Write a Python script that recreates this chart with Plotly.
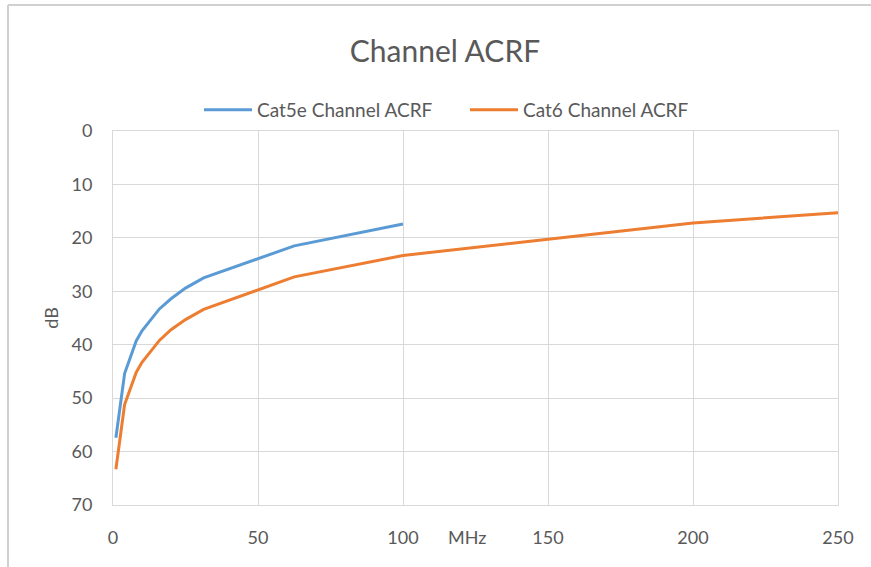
import plotly.graph_objects as go

freq_cat5e = [1, 4, 8, 10, 16, 20, 25, 31.25, 62.5, 100]
acrf_cat5e = [57.4, 45.4, 39.3, 37.4, 33.3, 31.4, 29.4, 27.5, 21.5, 17.4]
freq_cat6 = [1, 4, 8, 10, 16, 20, 25, 31.25, 62.5, 100, 200, 250]
acrf_cat6 = [63.3, 51.2, 45.2, 43.3, 39.2, 37.2, 35.3, 33.4, 27.3, 23.3, 17.2, 15.3]

FONT = "Lato"
GRAY = "#595959"

def px_x(p):
    return (p - 113) / 725.0

def px_y(p):
    return (505 - p) / 374.0

fig = go.Figure()
fig.add_trace(go.Scatter(x=freq_cat5e, y=acrf_cat5e, mode="lines",
                         name="Cat5e Channel ACRF", legend="legend",
                         line=dict(color="#5B9BD5", width=3)))
fig.add_trace(go.Scatter(x=freq_cat6, y=acrf_cat6, mode="lines",
                         name="Cat6 Channel ACRF", legend="legend2",
                         line=dict(color="#ED7D31", width=3)))

leg_common = dict(orientation="h", yanchor="middle", y=px_y(110), xanchor="left",
                  font=dict(size=19, color=GRAY, family=FONT),
                  itemwidth=48, bgcolor="rgba(0,0,0,0)")

fig.update_layout(
    width=871, height=567,
    margin=dict(l=113, r=33, t=131, b=62),
    paper_bgcolor="white", plot_bgcolor="white",
    font=dict(family=FONT, color=GRAY, size=18),
    title=dict(text="Channel ACRF", x=px_x(445), xanchor="center", xref="paper",
               y=0.91, yanchor="middle",
               font=dict(size=30, color=GRAY, family=FONT)),
    showlegend=True,
    legend=dict(x=px_x(204 - 5), **leg_common),
    legend2=dict(x=px_x(470 - 5), **leg_common),
    xaxis=dict(range=[0, 250], tickvals=[0, 50, 100, 150, 200, 250],
               showgrid=True, gridcolor="#D9D9D9", gridwidth=1,
               showline=True, linecolor="#D9D9D9", mirror=True,
               zeroline=False, ticks="outside", ticklen=16, tickcolor="rgba(0,0,0,0)",
               tickfont=dict(size=18, color=GRAY), automargin=False),
    yaxis=dict(range=[70, 0], tickvals=[0, 10, 20, 30, 40, 50, 60, 70],
               showgrid=True, gridcolor="#D9D9D9", gridwidth=1,
               showline=True, linecolor="#D9D9D9", mirror=True,
               zeroline=False, ticks="outside", ticklen=16, tickcolor="rgba(0,0,0,0)",
               tickfont=dict(size=18, color=GRAY), automargin=False,
               title=dict(text="dB", font=dict(size=18, color=GRAY), standoff=8)),
)

fig.add_annotation(text="MHz", x=122, xref="x", y=px_y(537), yref="paper",
                   showarrow=False, font=dict(size=18, color=GRAY, family=FONT),
                   yanchor="middle", xanchor="center")

# outer chart border (left and top edges visible in the reference)
border = dict(color="#D0D0D0", width=2)
fig.add_shape(type="line", xref="paper", yref="paper",
              x0=px_x(8), x1=px_x(880), y0=px_y(5), y1=px_y(5),
              line=border, layer="below")
fig.add_shape(type="line", xref="paper", yref="paper",
              x0=px_x(8), x1=px_x(8), y0=px_y(5), y1=px_y(580),
              line=border, layer="below")

fig.write_html("out.html", config={"displayModeBar": False},
               post_script="document.body.style.margin='0';")
